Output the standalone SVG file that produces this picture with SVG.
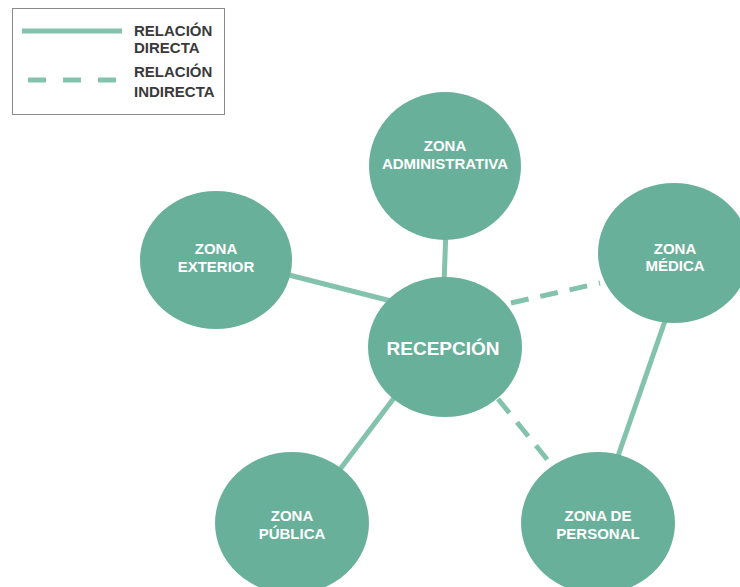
<svg xmlns="http://www.w3.org/2000/svg" width="740" height="587" viewBox="0 0 740 587">
<style>
.node{fill:#69b09a}
.t{font-family:"Liberation Sans",Arial,sans-serif;font-weight:bold;fill:#ffffff;text-anchor:middle;font-size:15px}
.big{font-size:19px}
.solid{stroke:#83c2ad;stroke-width:5;fill:none}
.dash{stroke:#83c2ad;stroke-width:5;fill:none;stroke-dasharray:18 12}
.lg{font-family:"Liberation Sans",Arial,sans-serif;font-weight:bold;fill:#3a3a3a;font-size:15px}
</style>
<rect width="740" height="587" fill="#ffffff"/>
<g id="legend">
<rect x="12.5" y="8.5" width="212" height="106" fill="#ffffff" stroke="#8a8a8a" stroke-width="1"/>
<line x1="22" y1="31" x2="122" y2="31" class="solid"/>
<line x1="28" y1="80" x2="118" y2="80" class="dash" style="stroke-dasharray:18 17"/>
<text class="lg" x="134" y="36">RELACIÓN</text>
<text class="lg" x="134" y="53">DIRECTA</text>
<text class="lg" x="134" y="77">RELACIÓN</text>
<text class="lg" x="134" y="97">INDIRECTA</text>
</g>
<g id="connectors">
<line x1="446" y1="228" x2="444" y2="285" class="solid"/>
<line x1="285" y1="274" x2="395" y2="302" class="solid"/>
<line x1="511" y1="303" x2="600" y2="283" class="dash"/>
<line x1="666" y1="318" x2="618" y2="456" class="solid"/>
<line x1="498" y1="399" x2="555" y2="469" class="dash"/>
<line x1="397" y1="394" x2="338" y2="472" class="solid"/>
</g>
<g id="zona-administrativa">
<ellipse class="node" cx="445" cy="166" rx="76" ry="74"/>
<text class="t" x="445" y="151">ZONA</text>
<text class="t" x="445" y="169">ADMINISTRATIVA</text>
</g>
<g id="zona-exterior">
<ellipse class="node" cx="216" cy="260" rx="76" ry="69"/>
<text class="t" x="216" y="254">ZONA</text>
<text class="t" x="216" y="272">EXTERIOR</text>
</g>
<g id="recepcion">
<ellipse class="node" cx="445" cy="347" rx="77" ry="70"/>
<text class="t big" x="443" y="355">RECEPCIÓN</text>
</g>
<g id="zona-medica">
<ellipse class="node" cx="674" cy="253" rx="76" ry="70"/>
<text class="t" x="675" y="254">ZONA</text>
<text class="t" x="675" y="271">MÉDICA</text>
</g>
<g id="zona-personal">
<ellipse class="node" cx="598" cy="523" rx="77" ry="71"/>
<text class="t" x="598" y="521">ZONA DE</text>
<text class="t" x="598" y="539">PERSONAL</text>
</g>
<g id="zona-publica">
<ellipse class="node" cx="292" cy="523" rx="77" ry="71"/>
<text class="t" x="292" y="521">ZONA</text>
<text class="t" x="292" y="539">PÚBLICA</text>
</g>
</svg>
